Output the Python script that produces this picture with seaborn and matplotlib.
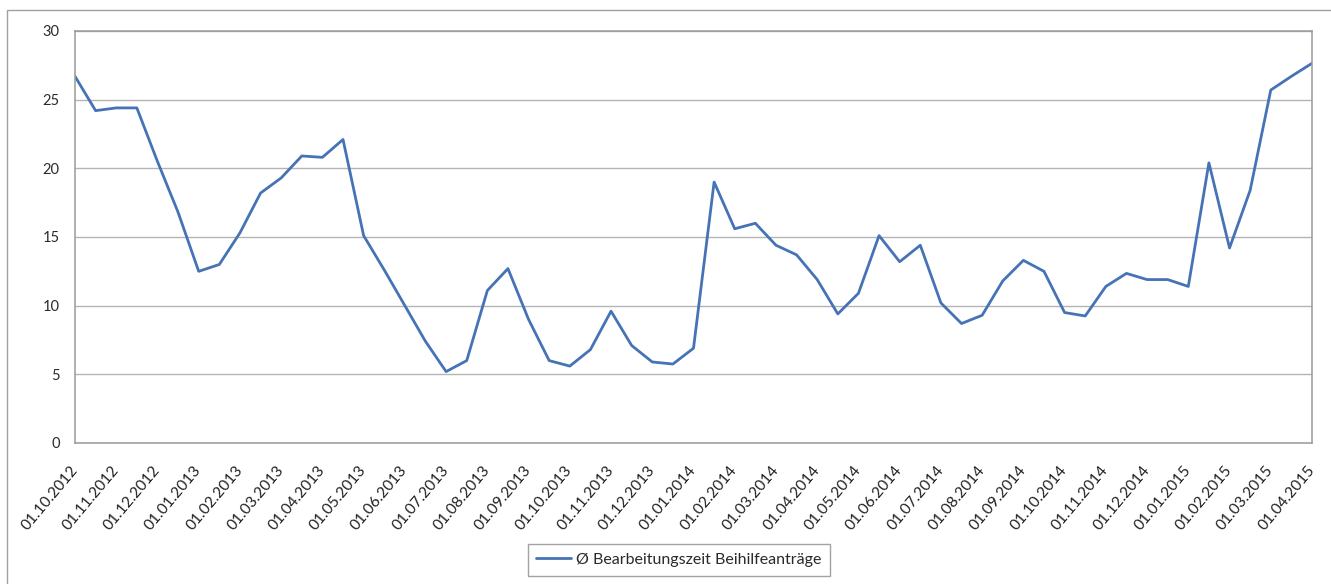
import matplotlib
matplotlib.use("Agg")
import matplotlib.pyplot as plt
from matplotlib.patches import Rectangle
import numpy as np
import pandas as pd
import seaborn as sns

# Average processing time, sampled on the 1st and 15th of each month
series_name = "Ø Bearbeitungszeit Beihilfeanträge"
values = [
    26.7, 24.2, 24.4, 24.4, 20.5, 16.8, 12.5, 13.0, 15.3, 18.2,
    19.3, 20.9, 20.8, 22.1, 15.1, 12.6, 10.0, 7.4, 5.2, 6.0,
    11.1, 12.7, 9.0, 6.0, 5.6, 6.8, 9.6, 7.1, 5.9, 5.75,
    6.9, 19.0, 15.6, 16.0, 14.4, 13.7, 11.9, 9.4, 10.9, 15.1,
    13.2, 14.4, 10.2, 8.7, 9.3, 11.8, 13.3, 12.5, 9.5, 9.25,
    11.4, 12.35, 11.9, 11.9, 11.4, 20.4, 14.2, 18.4, 25.7, 26.7,
    27.65,
]
month_labels = [
    "01.10.2012", "01.11.2012", "01.12.2012", "01.01.2013", "01.02.2013",
    "01.03.2013", "01.04.2013", "01.05.2013", "01.06.2013", "01.07.2013",
    "01.08.2013", "01.09.2013", "01.10.2013", "01.11.2013", "01.12.2013",
    "01.01.2014", "01.02.2014", "01.03.2014", "01.04.2014", "01.05.2014",
    "01.06.2014", "01.07.2014", "01.08.2014", "01.09.2014", "01.10.2014",
    "01.11.2014", "01.12.2014", "01.01.2015", "01.02.2015", "01.03.2015",
    "01.04.2015",
]
y_ticks = [0, 5, 10, 15, 20, 25, 30]

sns.set_theme(style="white")
plt.rcParams["font.family"] = ["Lato", "DejaVu Sans"]

W, H = 1331, 584
fig = plt.figure(figsize=(W / 100, H / 100), dpi=100)
fig.patch.set_facecolor("white")

left, right, top, bottom = 75, 1312, 31, 443
ax = fig.add_axes([left / W, 1 - bottom / H, (right - left) / W, (bottom - top) / H])

df = pd.DataFrame({"step": np.arange(len(values)), "value": values})
sns.lineplot(data=df, x="step", y="value", ax=ax, color="#4673B6",
             linewidth=2.0, label=series_name)

ax.set_xlim(0, len(values) - 1)
ax.set_ylim(y_ticks[0], y_ticks[-1])
ax.set_xlabel("")
ax.set_ylabel("")

ax.set_yticks(y_ticks)
ax.set_yticklabels([str(t) for t in y_ticks], fontsize=10.5, color="#2A2A2A")
month_pos = np.arange(0, len(values), 2)
ax.set_xticks(month_pos)
ax.set_xticklabels(month_labels, rotation=50, ha="right", va="center",
                   rotation_mode="anchor", fontsize=11.2, color="#222222")
ax.tick_params(axis="both", length=0)
ax.tick_params(axis="y", pad=11)
ax.tick_params(axis="x", pad=18)

ax.grid(axis="y", color="#B4B4B4", linewidth=1.0)
ax.grid(axis="x", visible=False)
for s in ax.spines.values():
    s.set_visible(True)
    s.set_color("#9A9A9A")
    s.set_linewidth(1.1)

ax.get_legend().remove()
handles, labels = ax.get_legend_handles_labels()
leg = fig.legend(handles, labels, loc="upper center",
                 bbox_to_anchor=(679 / W, 1 - 544 / H),
                 bbox_transform=fig.transFigure, frameon=True, fancybox=False,
                 fontsize=11.5, handlelength=2.2, handletextpad=0.3,
                 borderpad=0.55, borderaxespad=0)
leg.get_frame().set_edgecolor("#8C8C8C")
leg.get_frame().set_linewidth(1.0)
for t in leg.get_texts():
    t.set_color("#2A2A2A")

# chart-area border
fig.patches.append(Rectangle((7 / W, -0.1), 1.2, 1.1 - 10 / H,
                             transform=fig.transFigure, fill=False,
                             edgecolor="#A0A0A0", linewidth=1.0))

fig.savefig("out.png", dpi=100)
